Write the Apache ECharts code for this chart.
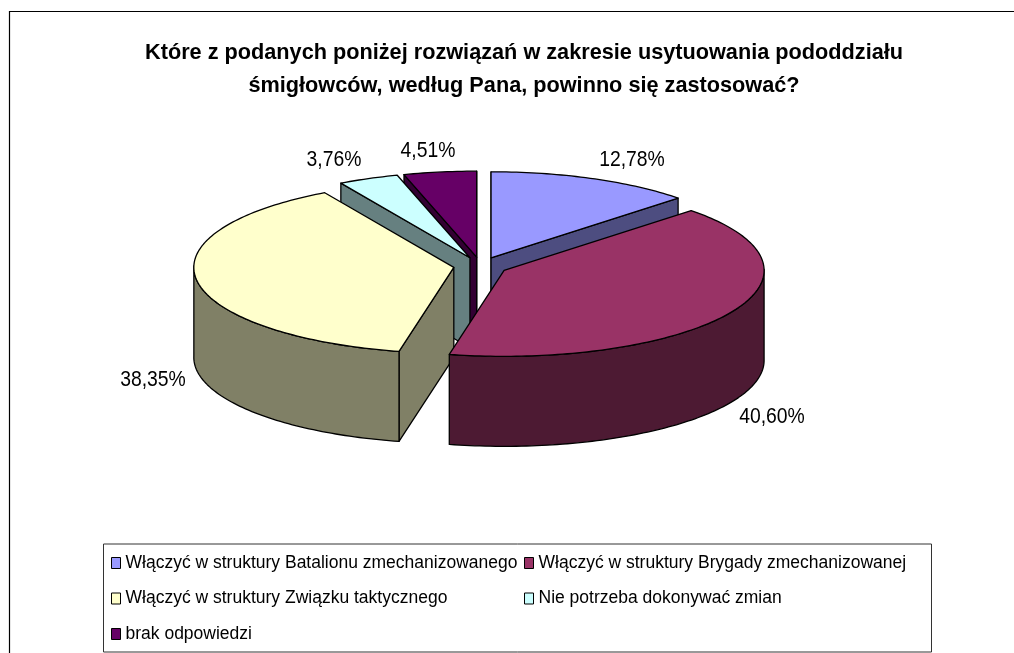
<!DOCTYPE html>
<html>
<head>
<meta charset="utf-8">
<style>html,body{margin:0;padding:0;background:#fff}#c{width:1014px;height:653px}</style>
<script src="https://cdn.jsdelivr.net/npm/echarts@6/dist/echarts.min.js"></script>
</head>
<body>
<div id="c"></div>
<script>
const categories = [
  'Włączyć w struktury Batalionu zmechanizowanego',
  'Włączyć w struktury Brygady zmechanizowanej',
  'Włączyć w struktury Związku taktycznego',
  'Nie potrzeba dokonywać zmian',
  'brak odpowiedzi'
];
const values = [12.78, 40.60, 38.35, 3.76, 4.51];
const topColors = ['#9999FF', '#993366', '#FFFFCC', '#CCFFFF', '#660066'];
const sideColors = ['#4D4D80', '#4D1A33', '#808066', '#668080', '#330033'];
const labelAnchors = [[632, 160], [772, 417], [153, 380], [334, 160], [428, 151]];
const drawOrder = [0, 4, 3, 2, 1];
const titleText = 'Które z podanych poniżej rozwiązań w zakresie usytuowania pododdziału\nśmigłowców, według Pana, powinno się zastosować?';

const pie = { cx: 480.5, cy: 266, rx: 260, ry: 86, depth: 90, explode: 27 };
const total = values.reduce((a, b) => a + b, 0);
const starts = [];
values.reduce((acc, v, i) => { starts[i] = acc; return acc + v; }, 0);
const rad = v => v / total * Math.PI * 2;
const fmt = v => v.toFixed(2).replace('.', ',') + '%';

function makeRender(idx) {
  return function () {
    const a0 = rad(starts[idx]), a1 = rad(starts[idx] + values[idx]), mid = (a0 + a1) / 2;
    const ox = pie.cx + pie.explode * Math.sin(mid);
    const oy = pie.cy - pie.explode * (pie.ry / pie.rx) * Math.cos(mid);
    const pt = (a, d) => [ox + pie.rx * Math.sin(a), oy - pie.ry * Math.cos(a) + (d || 0)];
    const arc = [];
    const n = Math.max(4, Math.ceil((a1 - a0) / 0.02));
    for (let i = 0; i <= n; i++) arc.push(a0 + (a1 - a0) * i / n);
    const apex = [ox, oy], apexB = [ox, oy + pie.depth];
    const line = { stroke: '#000', lineWidth: 1.3, lineJoin: 'round' };
    const poly = (points, fill) => ({ type: 'polygon', shape: { points }, style: Object.assign({ fill }, line) });
    const side = sideColors[idx];
    const children = [];
    if (-Math.sin(a0) >= -1e-6) children.push(poly([apex, pt(a0), pt(a0, pie.depth), apexB], side));
    if (Math.sin(a1) >= -1e-6) children.push(poly([apex, pt(a1), pt(a1, pie.depth), apexB], side));
    const front = arc.filter(a => Math.cos(a) <= 0.02);
    if (front.length > 1) {
      children.push(poly(front.map(a => pt(a)).concat(front.slice().reverse().map(a => pt(a, pie.depth))), side));
    }
    children.push(poly([apex].concat(arc.map(a => pt(a))), topColors[idx]));
    children.push({
      type: 'text', x: labelAnchors[idx][0], y: labelAnchors[idx][1],
      style: { text: fmt(values[idx]), fill: '#000', font: '22px "Liberation Sans"', align: 'center', verticalAlign: 'middle' },
      scaleX: 0.88, z2: 100
    });
    return { type: 'group', children };
  };
}

const series = drawOrder.map((idx, order) => ({
  type: 'custom', name: categories[idx], coordinateSystem: 'none', z: 2 + order,
  silent: true, animation: false, clip: false,
  itemStyle: { color: topColors[idx] },
  data: [values[idx]],
  renderItem: makeRender(idx)
}));

const legendBase = {
  orient: 'vertical', icon: 'rect', itemWidth: 9, itemHeight: 11, itemGap: 17.5, padding: 0, selectedMode: false,
  itemStyle: { borderColor: '#000', borderWidth: 1 },
  textStyle: { fontFamily: 'Liberation Sans', fontSize: 17.5, color: '#000' }
};
const chart = echarts.init(document.getElementById('c'), null, { renderer: 'canvas' });
chart.setOption({
  backgroundColor: '#fff',
  animation: false,
  title: {
    text: titleText, left: 524, top: 37, textAlign: 'center', padding: 0,
    textStyle: { fontFamily: 'Liberation Sans', fontWeight: 'bold', fontSize: 21.7, lineHeight: 33, color: '#000' }
  },
  legend: [
    Object.assign({}, legendBase, { left: 111, top: 554, data: [categories[0], categories[2], categories[4]] }),
    Object.assign({}, legendBase, { left: 524, top: 554, data: [categories[1], categories[3]] })
  ],
  graphic: [
    { type: 'rect', silent: true, z: -1, shape: { x: 9.5, y: 11.5, width: 1030, height: 660 }, style: { fill: 'none', stroke: '#000', lineWidth: 1.2 } },
    { type: 'rect', silent: true, z: -1, shape: { x: 103.5, y: 544, width: 828, height: 108 }, style: { fill: '#fff', stroke: '#333', lineWidth: 1 } }
  ],
  series
});
</script>
</body>
</html>
